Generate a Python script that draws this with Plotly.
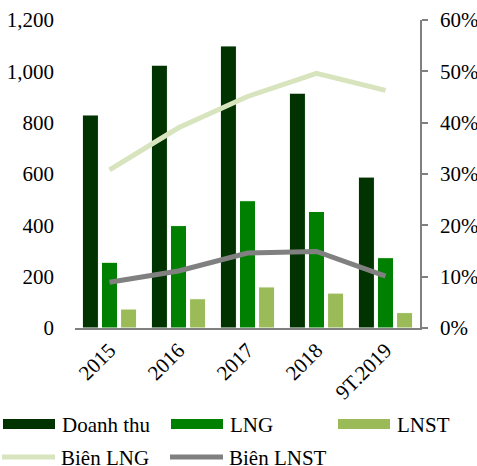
import plotly.graph_objects as go

categories = ["2015", "2016", "2017", "2018", "9T.2019"]
doanh_thu = [830, 1024, 1099, 915, 588]
lng = [256, 399, 496, 454, 274]
lnst = [74, 114, 160, 136, 60]
bien_lng = [0.308, 0.390, 0.451, 0.496, 0.463]
bien_lnst = [0.089, 0.111, 0.146, 0.149, 0.101]

left_ticks = [0, 200, 400, 600, 800, 1000, 1200]
right_ticks = [0, 0.1, 0.2, 0.3, 0.4, 0.5, 0.6]

C_DT = "#003300"
C_LNG = "#008000"
C_LNST = "#9BBB59"
C_BLNG = "#D7E4BD"
C_BLNST = "#808080"
FONT = "Liberation Serif, Times New Roman, serif"

W, H = 477, 466
ML, MR, MT, MB = 75, 57, 20, 138
PW, PH = W - ML - MR, H - MT - MB


def px(x):
    return (x - ML) / PW


def py(y):
    return (H - MB - y) / PH


fig = go.Figure()
fig.add_trace(go.Bar(x=categories, y=doanh_thu, name="Doanh thu", marker=dict(color=C_DT, line=dict(color="white", width=1))))
fig.add_trace(go.Bar(x=categories, y=lng, name="LNG", marker=dict(color=C_LNG, line=dict(color="white", width=1))))
fig.add_trace(go.Bar(x=categories, y=lnst, name="LNST", marker=dict(color=C_LNST, line=dict(color="white", width=1))))
fig.add_trace(go.Scatter(x=categories, y=bien_lng, name="Biên LNG", mode="lines", yaxis="y2", line=dict(color=C_BLNG, width=5)))
fig.add_trace(go.Scatter(x=categories, y=bien_lnst, name="Biên LNST", mode="lines", yaxis="y2", line=dict(color=C_BLNST, width=5)))

shapes = []
annotations = []
# manual legend
legend_items = [
    ("rect", C_DT, "Doanh thu", 3, 424),
    ("rect", C_LNG, "LNG", 171, 424),
    ("rect", C_LNST, "LNST", 338, 424),
    ("line", C_BLNG, "Biên LNG", 2, 457),
    ("line", C_BLNST, "Biên LNST", 170, 457),
]
for kind, col, label, x0, yc in legend_items:
    if kind == "rect":
        shapes.append(dict(type="rect", xref="paper", yref="paper", x0=px(x0), x1=px(x0 + 52),
                           y0=py(yc + 5), y1=py(yc - 5), fillcolor=col, line=dict(width=0)))
    else:
        shapes.append(dict(type="line", xref="paper", yref="paper", x0=px(x0), x1=px(x0 + 53),
                           y0=py(yc), y1=py(yc), line=dict(color=col, width=5)))
    annotations.append(dict(text=label, xref="paper", yref="paper", x=px(x0 + 57), y=py(yc + 1),
                            xanchor="left", yanchor="middle", showarrow=False,
                            font=dict(family=FONT, size=21, color="black")))

annotations.append(dict(text="(tỷ đồng)", xref="paper", yref="paper", x=px(350), y=py(-3),
                        xanchor="center", yanchor="bottom", showarrow=False,
                        font=dict(family=FONT, size=21, color="black")))

fig.update_layout(
    width=W, height=H,
    margin=dict(l=ML, r=MR, t=MT, b=MB, autoexpand=False),
    paper_bgcolor="white", plot_bgcolor="white",
    font=dict(family=FONT, size=21, color="black"),
    barmode="group", bargap=0.17, bargroupgap=0.16,
    showlegend=False,
    xaxis=dict(showline=True, linecolor="#808080", linewidth=1.5, ticks="", tickangle=-45,
               showgrid=False, zeroline=False, automargin=False),
    yaxis=dict(range=[0, 1200], tickvals=left_ticks, tickformat=",d", showgrid=False,
               showline=False, zeroline=False, ticks="", ticklabelstandoff=20, automargin=False),
    yaxis2=dict(range=[0, 0.6], tickvals=right_ticks, tickformat=".0%", overlaying="y", side="right",
                showgrid=False, zeroline=False, showline=True, linecolor="#808080", linewidth=1.5,
                ticks="outside", ticklen=6, tickcolor="#808080", tickwidth=1.5, ticklabelstandoff=8,
                automargin=False),
    shapes=shapes,
    annotations=annotations,
)

fig.write_html("out.html", config={"displayModeBar": False},
               post_script="document.body.style.margin='0';document.body.style.padding='0';")
